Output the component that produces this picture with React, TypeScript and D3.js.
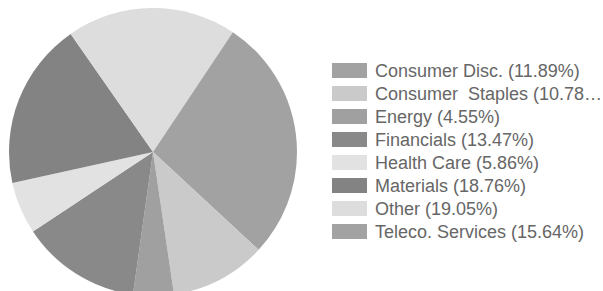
import { useEffect, useRef } from 'react';
import * as d3 from 'd3';

const sectors = [
    'Consumer Disc.',
    'Consumer  Staples',
    'Energy',
    'Financials',
    'Health Care',
    'Materials',
    'Other',
    'Teleco. Services',
];
const shares = [11.89, 10.78, 4.55, 13.47, 5.86, 18.76, 19.05, 15.64];
const legendLabels = [
    'Consumer Disc. (11.89%)',
    'Consumer  Staples (10.78\u2026',
    'Energy (4.55%)',
    'Financials (13.47%)',
    'Health Care (5.86%)',
    'Materials (18.76%)',
    'Other (19.05%)',
    'Teleco. Services (15.64%)',
];
const greys = ['#a2a2a2', '#cacaca', '#a0a0a0', '#898989', '#e2e2e2', '#838383', '#dddddd', '#a2a2a2'];

const width = 603;
const height = 291;
const center = { x: 153, y: 152 };
const radius = 144;

const App = () => {
    const svgRef = useRef<SVGSVGElement>(null);

    useEffect(() => {
        const svg = d3.select(svgRef.current);
        svg.selectAll('*').remove();

        const color = d3.scaleOrdinal<string, string>().domain(sectors).range(greys);

        const pie = d3
            .pie<number>()
            .sort(null)
            .startAngle(Math.PI / 2)
            .endAngle(Math.PI / 2 + 2 * Math.PI);
        const arc = d3.arc<d3.PieArcDatum<number>>().innerRadius(0).outerRadius(radius);

        svg.append('rect').attr('width', width).attr('height', height).attr('fill', '#ffffff');

        // pie slices
        svg.append('g')
            .attr('transform', `translate(${center.x},${center.y})`)
            .selectAll('path')
            .data(pie(shares))
            .join('path')
            .attr('d', arc)
            .attr('fill', (_, i) => color(sectors[i]));

        // legend
        const legend = svg.append('g').attr('transform', 'translate(332,63)');
        const items = legend
            .selectAll('g')
            .data(sectors)
            .join('g')
            .attr('transform', (_, i) => `translate(0,${i * 23})`);

        items
            .append('rect')
            .attr('width', 35)
            .attr('height', 15)
            .attr('fill', d => color(d));

        items
            .append('text')
            .attr('x', 43)
            .attr('y', 14)
            .attr('fill', '#666666')
            .style('font-family', '"Liberation Sans", Arial, sans-serif')
            .style('font-size', '18px')
            .style('white-space', 'pre')
            .text((_, i) => legendLabels[i]);
    }, []);

    return (
        <svg
            ref={svgRef}
            width={width}
            height={height}
            style={{ position: 'absolute', left: 0, top: 0 }}
        ></svg>
    );
};

export default App;
